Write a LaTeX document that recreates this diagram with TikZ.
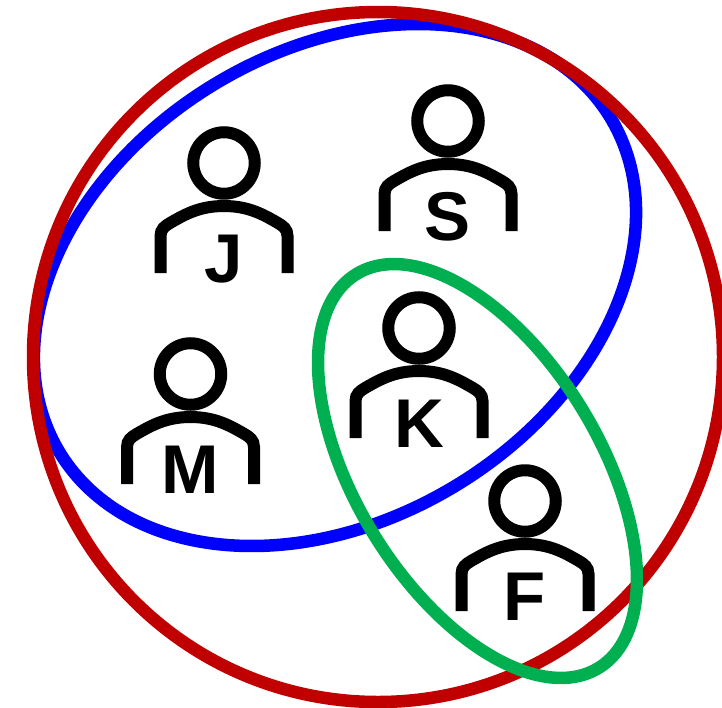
\documentclass[tikz,border=0pt]{standalone}
\usepackage{fontspec}
\setmainfont{Liberation Sans}
\definecolor{setred}{RGB}{192,0,0}
\definecolor{setblue}{RGB}{0,0,255}
\definecolor{setgreen}{RGB}{0,176,80}
\tikzset{
  setline/.style={line width=12.5pt},
  headnode/.style={circle, draw, line width=12pt, minimum size=61.5pt, inner sep=0pt},
  bodyline/.style={line width=12pt},
  namenode/.style={font=\bfseries\fontsize{69}{69}\selectfont, inner sep=0pt, anchor=base},
}
% one person: head, shoulders and letter
\newcommand{\person}[3]{%
  \node[headnode] (#1) at (#2,#3) {};
  \draw[bodyline] ([shift={(-63.5pt,-110pt)}]#1.center) -- ++(0,37pt)
     .. controls +(0,7pt) and +(-5pt,-3pt) .. ([shift={(-54pt,-60pt)}]#1.center)
     .. controls +(14pt,8pt) and +(-25pt,0pt) .. ([yshift=-43pt]#1.center)
     .. controls +(25pt,0pt) and +(-14pt,8pt) .. ([shift={(54pt,-60pt)}]#1.center)
     .. controls +(5pt,-3pt) and +(0,7pt) .. ([shift={(63.5pt,-73pt)}]#1.center) -- ++(0,-37pt);
  \node[namenode] (#1name) at ([yshift=-119.3pt]#1.center) {#1};
}
\begin{document}
\begin{tikzpicture}[x=1pt,y=-1pt]
  \useasboundingbox (0,0) rectangle (722,707);

  % People
  \person{J}{224}{163}
  \person{S}{448}{121}
  \person{M}{190.5}{374}
  \person{K}{419}{328}
  \person{F}{525}{501}

  % Sets
  \draw[setline, setblue, rotate around={31.35:(335,285)}] (335,285) ellipse [x radius=322.3pt, y radius=234.2pt];
  \draw[setline, setred] (378,357) ellipse [x radius=345pt, y radius=345pt];
  \draw[setline, setgreen, rotate around={-58.35:(477.5,471)}] (477.5,471) ellipse [x radius=231.2pt, y radius=121.6pt];
\end{tikzpicture}
\end{document}
